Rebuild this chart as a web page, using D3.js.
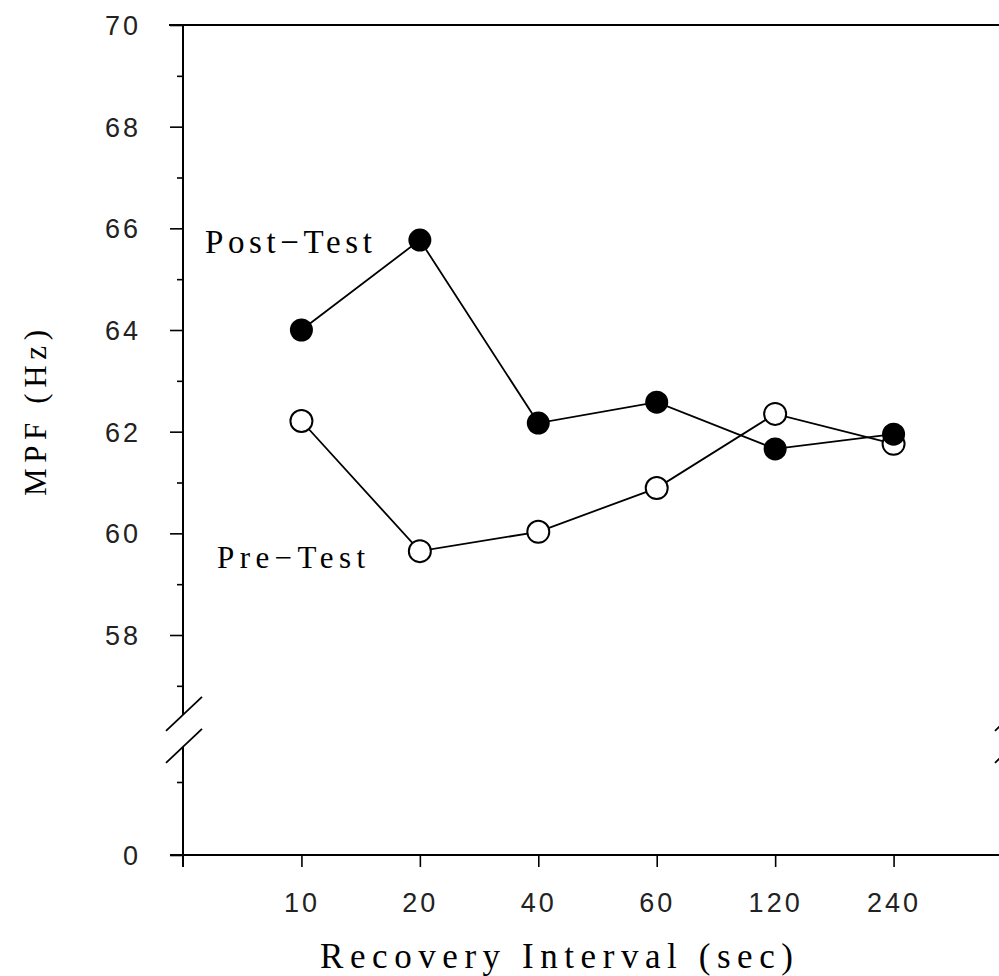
<!DOCTYPE html>
<html>
<head>
<meta charset="utf-8">
<script src="https://cdn.jsdelivr.net/npm/d3@7"></script>
<style>
  body { margin: 0; background: #fff; }
</style>
</head>
<body>
<div id="chart"></div>
<script>
// recovery intervals (sec) and MPF values (Hz)
const intervals = ["10", "20", "40", "60", "120", "240"];
const postTest = [64.0, 65.77, 62.17, 62.58, 61.66, 61.95];
const preTest = [62.21, 59.65, 60.03, 60.89, 62.35, 61.76];
const yTicks = [58, 60, 62, 64, 66, 68, 70];
const yMinor = [57, 59, 61, 63, 65, 67, 69];
const lowTicks = [0];
const lowMinor = [1];

var w = 999, h = 976;

var svg = d3.select("#chart")
  .append("svg")
  .attr("width", w)
  .attr("height", h)
  .style("font-family", "'Liberation Sans', sans-serif");

var x = d3.scalePoint()
  .domain(intervals)
  .range([183, 1012])
  .padding(1);

var y = d3.scaleLinear().domain([58, 70]).range([635, 25]);
// part of the axis below the break
var yLow = d3.scaleLinear().domain([0, 1]).range([855, 782]);

var x0 = x.range()[0], x1 = x.range()[1];
var yBottom = yLow(0);
var breakY = y(57) + 29, breakGap = 32;

// y axis, upper part
var yAxis = svg.append("g")
  .attr("transform", "translate(" + x0 + ",0)")
  .call(d3.axisLeft(y).tickValues(yTicks).tickSize(13).tickPadding(29).tickSizeOuter(0));
yAxis.select(".domain").remove();

svg.append("g")
  .attr("transform", "translate(" + x0 + ",0)")
  .call(d3.axisLeft(y).tickValues(yMinor).tickSize(6).tickFormat(""))
  .call(g => g.select(".domain").remove());

// y axis, lower part
var yAxisLow = svg.append("g")
  .attr("transform", "translate(" + x0 + ",0)")
  .call(d3.axisLeft(yLow).tickValues(lowTicks).tickFormat(d3.format("d")).tickSize(13).tickPadding(29).tickSizeOuter(0));
yAxisLow.select(".domain").remove();

svg.append("g")
  .attr("transform", "translate(" + x0 + ",0)")
  .call(d3.axisLeft(yLow).tickValues(lowMinor).tickSize(6).tickFormat(""))
  .call(g => g.select(".domain").remove());

// x axis
var xAxis = svg.append("g")
  .attr("transform", "translate(0," + yBottom + ")")
  .call(d3.axisBottom(x).tickSize(12).tickPadding(26).tickSizeOuter(0));
xAxis.select(".domain").remove();

svg.selectAll(".tick line").attr("stroke", "#000").attr("stroke-width", 1.6);
svg.selectAll(".tick text")
  .attr("fill", "#222")
  .style("font-size", "27px")
  .style("letter-spacing", "3px");
yAxis.selectAll(".tick text").attr("dy", "0.35em");
yAxisLow.selectAll(".tick text").attr("dy", "0.35em");

var frame = svg.append("g")
  .attr("stroke", "#000")
  .attr("stroke-width", 2)
  .attr("fill", "none");

// left spine with break
frame.append("line").attr("x1", x0).attr("x2", x0).attr("y1", y(70)).attr("y2", breakY);
frame.append("line").attr("x1", x0).attr("x2", x0).attr("y1", breakY + breakGap).attr("y2", yBottom + 12);
// right spine with break (mostly outside the picture)
frame.append("line").attr("x1", x1).attr("x2", x1).attr("y1", y(70)).attr("y2", breakY);
frame.append("line").attr("x1", x1).attr("x2", x1).attr("y1", breakY + breakGap).attr("y2", yBottom);
// top and bottom lines
frame.append("line").attr("x1", x0 - 14).attr("x2", x1).attr("y1", y(70)).attr("y2", y(70));
frame.append("line").attr("x1", x0 - 13).attr("x2", x1).attr("y1", yBottom).attr("y2", yBottom);

// break marks
[x0, x1].forEach(function(bx){
  [0, breakGap].forEach(function(off){
    frame.append("line")
      .attr("x1", bx - 17).attr("y1", breakY + 16 + off)
      .attr("x2", bx + 19).attr("y2", breakY - 18 + off)
      .attr("stroke-width", 1.8);
  });
});

// series lines
var line = d3.line()
  .x((d, i) => x(intervals[i]))
  .y(d => y(d));

svg.append("path")
  .attr("d", line(preTest))
  .attr("fill", "none")
  .attr("stroke", "#000")
  .attr("stroke-width", 1.8);

svg.append("path")
  .attr("d", line(postTest))
  .attr("fill", "none")
  .attr("stroke", "#000")
  .attr("stroke-width", 1.8);

// markers: open first so the filled ones sit on top at 240
svg.selectAll(".pre")
  .data(preTest)
  .enter()
  .append("circle")
  .attr("class", "pre")
  .attr("cx", (d, i) => x(intervals[i]))
  .attr("cy", d => y(d))
  .attr("r", 11)
  .attr("fill", "#fff")
  .attr("stroke", "#000")
  .attr("stroke-width", 2);

svg.selectAll(".post")
  .data(postTest)
  .enter()
  .append("circle")
  .attr("class", "post")
  .attr("cx", (d, i) => x(intervals[i]))
  .attr("cy", d => y(d))
  .attr("r", 11.5)
  .attr("fill", "#000");

// series labels
svg.append("text")
  .attr("x", 205)
  .attr("y", 253)
  .attr("textLength", 167)
  .attr("lengthAdjust", "spacing")
  .style("font-family", "'Liberation Serif', serif")
  .style("font-size", "33px")
  .text("Post\u2212Test");

svg.append("text")
  .attr("x", 217)
  .attr("y", 568)
  .attr("textLength", 148)
  .attr("lengthAdjust", "spacing")
  .style("font-family", "'Liberation Serif', serif")
  .style("font-size", "31px")
  .text("Pre\u2212Test");

// axis titles
svg.append("text")
  .attr("x", 320)
  .attr("y", 968)
  .attr("textLength", 473)
  .attr("lengthAdjust", "spacing")
  .style("font-family", "'Liberation Serif', serif")
  .style("font-size", "35px")
  .text("Recovery Interval (sec)");

svg.append("text")
  .attr("transform", "translate(46,496) rotate(-90)")
  .attr("textLength", 166)
  .attr("lengthAdjust", "spacing")
  .style("font-family", "'Liberation Serif', serif")
  .style("font-size", "31px")
  .text("MPF (Hz)");
</script>
</body>
</html>
